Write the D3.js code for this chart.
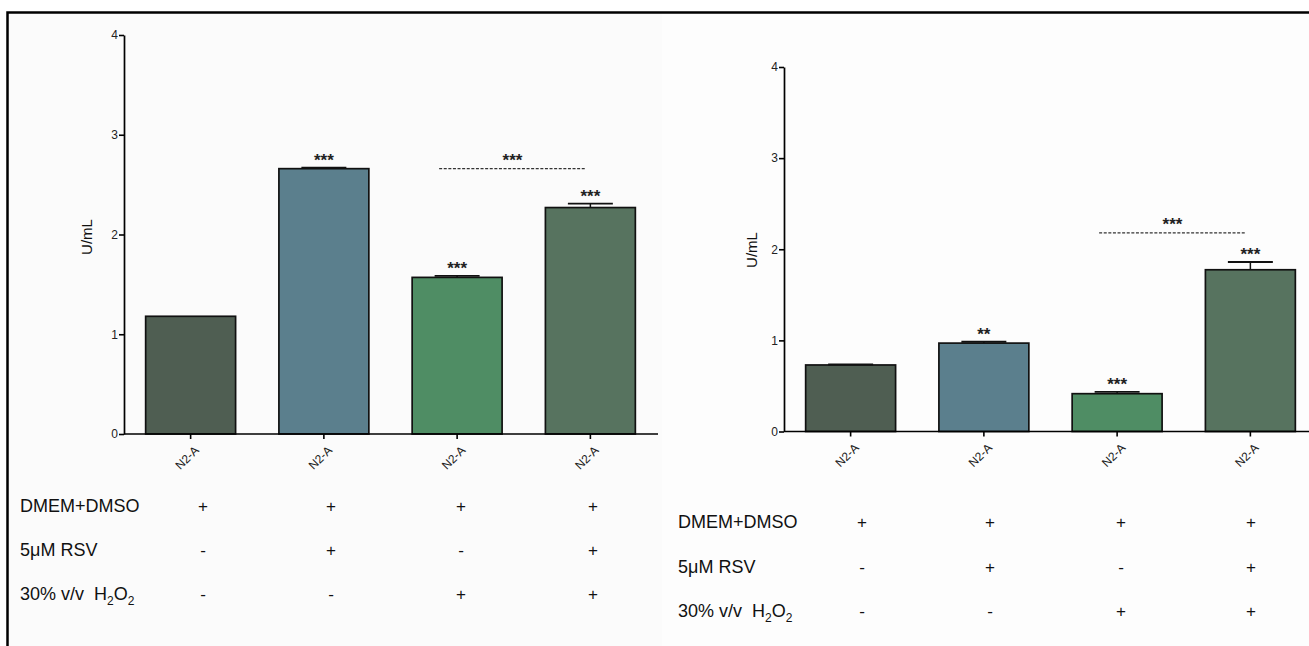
<!DOCTYPE html>
<html>
<head>
<meta charset="utf-8">
<script src="https://cdn.jsdelivr.net/npm/d3@7"></script>
<style>
  body { margin: 0; background: #fff; }
  svg { display: block; font-family: Arial, "Liberation Sans", sans-serif; }
  text { white-space: pre; }
</style>
</head>
<body>
<div id="chart"></div>
<script>
// groups on the x axis
var categories = ['N2-A', 'N2-A', 'N2-A', 'N2-A'];
var barColors = ['#4f5e52', '#5b7f8d', '#4f8d64', '#57735f'];
var yTicks = [0, 1, 2, 3, 4];

// left panel
var leftValues = [1.18, 2.66, 1.57, 2.27];
var leftErrors = [0, 0.01, 0.015, 0.04];
var leftStars = ['', '***', '***', '***'];
var leftBracket = {from: 2, to: 3, y: 2.66, label: '***'};

// right panel
var rightValues = [0.73, 0.97, 0.415, 1.775];
var rightErrors = [0.005, 0.015, 0.02, 0.085];
var rightStars = ['', '**', '***', '***'];
var rightBracket = {from: 2, to: 3, y: 2.18, label: '***'};

// treatment table below the bars
var rowLabels = ['DMEM+DMSO', '5\u03bcM RSV', '30% v/v  H2O2'];
var rowSigns = [
  ['+', '+', '+', '+'],
  ['-', '+', '-', '+'],
  ['-', '-', '+', '+']
];

var width = 1309, height = 646;

var svg = d3.select('#chart').append('svg')
  .attr('width', width)
  .attr('height', height);

// panel backgrounds and frame
svg.append('rect').attr('x', 8).attr('y', 13).attr('width', 654).attr('height', 633).attr('fill', '#fbfbfb');
svg.append('rect').attr('x', 662).attr('y', 13).attr('width', 647).attr('height', 633).attr('fill', '#fdfdfd');
svg.append('path')
  .attr('d', 'M7.5,646V12.5H1309')
  .attr('fill', 'none')
  .attr('stroke', '#000')
  .attr('stroke-width', 2.5);

function panel(opts) {
  var g = svg.append('g');

  var x = d3.scaleBand()
    .domain(d3.range(categories.length))
    .range([opts.x0, opts.x1])
    .paddingInner(0.325)
    .paddingOuter(0.1625);

  var y = d3.scaleLinear()
    .domain([0, 4])
    .range([opts.y0, opts.y4]);

  // y axis
  var yAxis = g.append('g')
    .attr('transform', 'translate(' + opts.x0 + ',0)')
    .call(d3.axisLeft(y).tickValues(yTicks).tickSize(5).tickSizeOuter(0).tickFormat(d3.format('d')));
  yAxis.select('.domain').attr('stroke-width', 1.7);
  yAxis.selectAll('.tick line').attr('stroke-width', 1.6);
  yAxis.selectAll('.tick text').attr('font-size', 12).attr('fill', '#222').attr('x', -6);

  g.append('text')
    .attr('transform', 'translate(' + opts.labelX + ',' + opts.labelY + ') rotate(-90)')
    .attr('text-anchor', 'middle')
    .attr('font-size', 15)
    .attr('fill', '#111')
    .text('U/mL');

  // bars
  g.selectAll('rect.bar')
    .data(opts.values)
    .enter()
    .append('rect')
    .attr('class', 'bar')
    .attr('x', function(d, i) { return x(i); })
    .attr('y', function(d) { return y(d); })
    .attr('width', x.bandwidth())
    .attr('height', function(d) { return y(0) - y(d); })
    .attr('fill', function(d, i) { return barColors[i]; })
    .attr('stroke', '#111')
    .attr('stroke-width', 1.7);

  // error bars (upper only)
  var cx = function(i) { return x(i) + x.bandwidth() / 2; };
  opts.values.forEach(function(v, i) {
    var e = opts.errors[i];
    if (e > 0) {
      g.append('line')
        .attr('x1', cx(i)).attr('x2', cx(i))
        .attr('y1', y(v)).attr('y2', y(v + e))
        .attr('stroke', '#111').attr('stroke-width', 1.5);
      g.append('line')
        .attr('x1', cx(i) - x.bandwidth() / 4).attr('x2', cx(i) + x.bandwidth() / 4)
        .attr('y1', y(v + e)).attr('y2', y(v + e))
        .attr('stroke', '#111').attr('stroke-width', 1.8);
    }
    if (opts.stars[i]) {
      g.append('text')
        .attr('x', cx(i))
        .attr('y', y(v + e) - 2)
        .attr('text-anchor', 'middle')
        .attr('font-size', 17)
        .attr('font-weight', 'bold')
        .attr('fill', '#222')
        .text(opts.stars[i]);
    }
  });

  // comparison line
  var b = opts.bracket;
  var bx1 = x(b.from) + x.bandwidth() * 0.3,
      bx2 = x(b.to) + x.bandwidth() * 0.45;
  g.append('line')
    .attr('x1', bx1).attr('x2', bx2)
    .attr('y1', y(b.y)).attr('y2', y(b.y))
    .attr('stroke', '#333')
    .attr('stroke-width', 1.4)
    .attr('stroke-dasharray', '3,1.6');
  g.append('text')
    .attr('x', (bx1 + bx2) / 2)
    .attr('y', y(b.y) - 3)
    .attr('text-anchor', 'middle')
    .attr('font-size', 17)
    .attr('font-weight', 'bold')
    .attr('fill', '#222')
    .text(b.label);

  // x axis
  var xAxis = g.append('g')
    .attr('transform', 'translate(0,' + opts.y0 + ')')
    .call(d3.axisBottom(x).tickSize(5).tickSizeOuter(0).tickFormat(function(i) { return categories[i]; }));
  xAxis.select('.domain').attr('stroke-width', 1.7).attr('d', 'M' + opts.x0 + ',0H' + opts.axisEnd);
  xAxis.selectAll('.tick line').attr('stroke-width', 1.6);
  xAxis.selectAll('.tick text')
    .attr('font-size', 12)
    .attr('fill', '#222')
    .attr('text-anchor', 'end')
    .attr('dy', '0.35em')
    .attr('transform', 'translate(6,14) rotate(-45)')
    .attr('y', 0);

  // treatment table
  var t = g.append('g');
  rowLabels.forEach(function(label, r) {
    var ty = opts.tableY[r];
    var txt = t.append('text')
      .attr('x', opts.tableX)
      .attr('y', ty)
      .attr('dy', '0.35em')
      .attr('font-size', 18)
      .attr('fill', '#111');
    if (label.indexOf('H2O2') >= 0) {
      txt.append('tspan').text('30% v/v  H');
      txt.append('tspan').attr('font-size', 12).attr('baseline-shift', -5).text('2');
      txt.append('tspan').text('O');
      txt.append('tspan').attr('font-size', 12).attr('baseline-shift', -5).text('2');
    } else {
      txt.text(label);
    }
    rowSigns[r].forEach(function(s, i) {
      t.append('text')
        .attr('x', opts.signX[i])
        .attr('y', ty)
        .attr('dy', '0.35em')
        .attr('text-anchor', 'middle')
        .attr('font-size', 17)
        .attr('fill', '#111')
        .text(s);
    });
  });
}

panel({
  x0: 124, x1: 657, axisEnd: 658,
  y0: 434, y4: 35,
  labelX: 92, labelY: 237,
  values: leftValues, errors: leftErrors, stars: leftStars, bracket: leftBracket,
  tableX: 20, tableY: [506, 550, 594],
  signX: [203, 331, 461, 593]
});

panel({
  x0: 784, x1: 1317, axisEnd: 1309,
  y0: 431.5, y4: 67,
  labelX: 757, labelY: 250,
  values: rightValues, errors: rightErrors, stars: rightStars, bracket: rightBracket,
  tableX: 678, tableY: [522, 567, 611],
  signX: [862, 990, 1121, 1251]
});
</script>
</body>
</html>
